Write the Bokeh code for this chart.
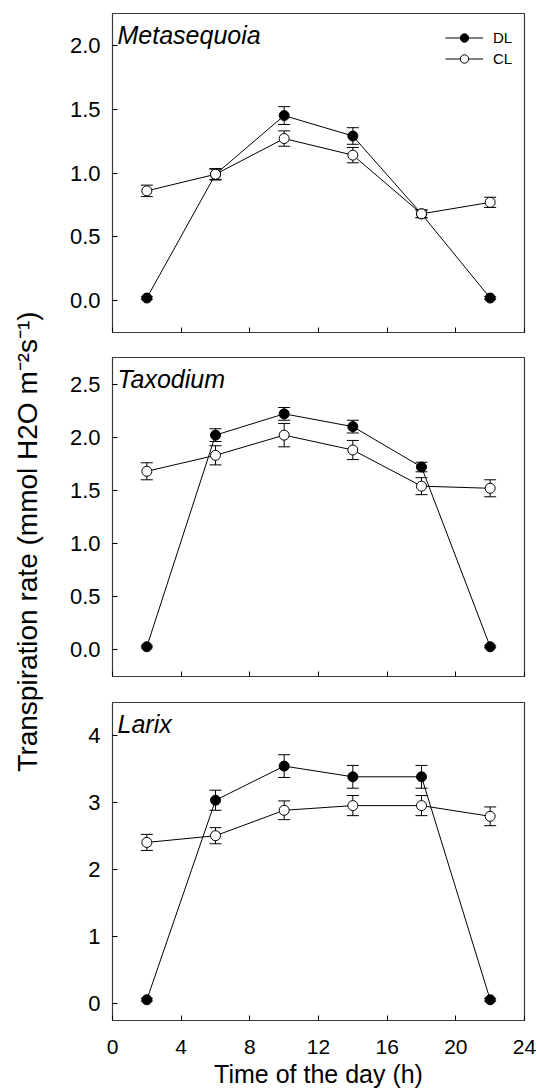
import math
from bokeh.plotting import figure
from bokeh.models import (ColumnDataSource, Whisker, TeeHead, FixedTicker,
                          PrintfTickFormatter, Range1d, Legend, LegendItem, Label)
from bokeh.layouts import row, column
from bokeh.embed import file_html
from bokeh.resources import INLINE

# ---------------- data ----------------
hours = [2, 6, 10, 14, 18, 22]
x_ticks = [0, 4, 8, 12, 16, 20, 24]

meta_dl = [0.02, 0.99, 1.45, 1.29, 0.68, 0.02]
meta_dl_se = [0.01, 0.04, 0.07, 0.065, 0.03, 0.01]
meta_cl = [0.86, 0.99, 1.27, 1.14, 0.68, 0.77]
meta_cl_se = [0.045, 0.045, 0.06, 0.06, 0.03, 0.04]

taxo_dl = [0.03, 2.02, 2.22, 2.10, 1.72, 0.03]
taxo_dl_se = [0.01, 0.06, 0.06, 0.06, 0.045, 0.01]
taxo_cl = [1.68, 1.83, 2.02, 1.88, 1.54, 1.52]
taxo_cl_se = [0.08, 0.09, 0.11, 0.09, 0.08, 0.08]

larix_dl = [0.06, 3.04, 3.55, 3.39, 3.39, 0.06]
larix_dl_se = [0.02, 0.15, 0.17, 0.17, 0.17, 0.02]
larix_cl = [2.41, 2.51, 2.89, 2.96, 2.96, 2.80]
larix_cl_se = [0.12, 0.12, 0.14, 0.15, 0.15, 0.14]

species = ["Metasequoia", "Taxodium", "Larix"]
series_names = ["DL", "CL"]
meta_y_ticks = [0.0, 0.5, 1.0, 1.5, 2.0]
taxo_y_ticks = [0.0, 0.5, 1.0, 1.5, 2.0, 2.5]
larix_y_ticks = [0, 1, 2, 3, 4]
x_title = "Time of the day (h)"
y_title = "Transpiration rate (mmol H2O m\u207b\u00b2s\u207b\u00b9)"

# ---------------- style ----------------
FONT = "Liberation Sans"
TITLE_W = 48
PANEL_W = 489
TOTAL_H = 1092
FRAME_COLOR = "#3a3a3a"


def make_panel(name, dl, dl_se, cl, cl_se, y_lo, y_hi, y_ticks, y_fmt,
               height, b_top, b_bottom, frame_h, bottom_panel=False, legend=False):
    p = figure(width=PANEL_W, height=height,
               x_range=Range1d(0, 24), y_range=Range1d(y_lo, y_hi),
               output_backend="svg", toolbar_location=None,
               min_border_left=64, min_border_right=13,
               min_border_top=b_top, min_border_bottom=b_bottom)
    p.title.visible = False
    p.grid.visible = False
    p.outline_line_color = FRAME_COLOR
    p.outline_line_width = 1.2
    p.background_fill_color = "white"
    p.border_fill_color = "white"

    for ax in (p.xaxis[0], p.yaxis[0]):
        ax.axis_line_color = None
        ax.major_tick_in = 5
        ax.major_tick_out = 0
        ax.major_tick_line_color = "black"
        ax.minor_tick_line_color = None
        ax.major_label_text_font = FONT
        ax.major_label_text_color = "black"

    p.xaxis.ticker = FixedTicker(ticks=x_ticks, minor_ticks=[])
    p.yaxis.ticker = FixedTicker(ticks=y_ticks, minor_ticks=[])
    p.yaxis.formatter = PrintfTickFormatter(format=y_fmt)
    p.yaxis.major_label_text_font_size = "22px"
    p.yaxis.major_label_standoff = 12

    span = y_hi - y_lo
    if bottom_panel:
        p.xaxis.major_label_text_font_size = "21px"
        p.xaxis.major_label_standoff = 19
        p.xaxis.axis_label = x_title
        p.xaxis.axis_label_text_font = FONT
        p.xaxis.axis_label_text_font_size = "25px"
        p.xaxis.axis_label_text_font_style = "normal"
        p.xaxis.axis_label_text_color = "black"
        p.xaxis.axis_label_standoff = 3
    else:
        p.xaxis.major_label_overrides = {t: "" for t in x_ticks}
        p.xaxis.major_label_text_font_size = "6px"
        p.xaxis.major_label_standoff = 0

    src_dl = ColumnDataSource(dict(x=hours, y=dl,
                                   lo=[v - e for v, e in zip(dl, dl_se)],
                                   hi=[v + e for v, e in zip(dl, dl_se)]))
    src_cl = ColumnDataSource(dict(x=hours, y=cl,
                                   lo=[v - e for v, e in zip(cl, cl_se)],
                                   hi=[v + e for v, e in zip(cl, cl_se)]))

    for src in (src_dl, src_cl):
        w = Whisker(base="x", lower="lo", upper="hi", source=src, dimension="height",
                    line_color="black", line_width=1,
                    upper_head=TeeHead(size=12, line_color="black", line_width=1),
                    lower_head=TeeHead(size=12, line_color="black", line_width=1),
                    level="underlay")
        p.add_layout(w)

    dl_line = p.line("x", "y", source=src_dl, line_color="black", line_width=1)
    cl_line = p.line("x", "y", source=src_cl, line_color="black", line_width=1)
    dl_pts = p.scatter("x", "y", source=src_dl, size=10, marker="circle",
                       fill_color="black", line_color="black", line_width=1)
    cl_pts = p.scatter("x", "y", source=src_cl, size=10, marker="circle",
                       fill_color="white", line_color="black", line_width=1)

    lab = Label(x=0, y=y_hi - 21 * span / frame_h, x_offset=5, text=name,
                text_font=FONT, text_font_size="25px", text_font_style="italic",
                text_color="black", text_baseline="alphabetic", text_align="left")
    p.add_layout(lab)

    if legend:
        leg = Legend(items=[LegendItem(label=series_names[0], renderers=[dl_line, dl_pts]),
                            LegendItem(label=series_names[1], renderers=[cl_line, cl_pts])],
                     location=(333, 263))
        leg.padding = 0
        leg.margin = 0
        leg.spacing = 0
        leg.glyph_width = 38
        leg.glyph_height = 21
        leg.label_height = 21
        leg.label_standoff = 10
        leg.label_text_font = FONT
        leg.label_text_font_size = "15px"
        leg.label_text_color = "black"
        leg.border_line_color = None
        leg.background_fill_alpha = 0
        p.add_layout(leg)
    return p


p1 = make_panel(species[0], meta_dl, meta_dl_se, meta_cl, meta_cl_se,
                -0.25, 2.25, meta_y_ticks, "%.1f",
                height=344, b_top=13, b_bottom=12, frame_h=319, legend=True)
p2 = make_panel(species[1], taxo_dl, taxo_dl_se, taxo_cl, taxo_cl_se,
                -0.25, 2.75, taxo_y_ticks, "%.1f",
                height=345, b_top=13, b_bottom=13, frame_h=319)
p3 = make_panel(species[2], larix_dl, larix_dl_se, larix_cl, larix_cl_se,
                -0.25, 4.5, larix_y_ticks, "%d",
                height=403, b_top=13, b_bottom=72, frame_h=318, bottom_panel=True)

# left strip holding the shared y-axis title
pt = figure(width=TITLE_W, height=TOTAL_H, x_range=Range1d(0, TITLE_W),
            y_range=Range1d(0, TOTAL_H), output_backend="svg", toolbar_location=None,
            x_axis_type=None, y_axis_type=None,
            min_border_left=0, min_border_right=0, min_border_top=0, min_border_bottom=0)
pt.title.visible = False
pt.grid.visible = False
pt.outline_line_color = None
pt.add_layout(Label(x=27, y=TOTAL_H - 541, text=y_title, angle=math.pi / 2,
                    text_font=FONT, text_font_size="28px", text_color="black",
                    text_align="center", text_baseline="middle"))

layout = row(pt, column(p1, p2, p3))

open("out.html", "w").write(file_html(layout, INLINE))
